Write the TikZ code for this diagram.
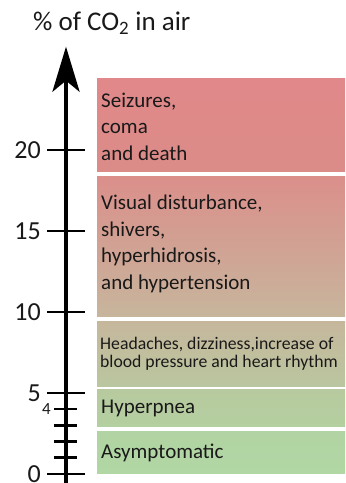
\documentclass[tikz,border=0pt]{standalone}
\usepackage{fontspec}
\setmainfont{Carlito}
\usepackage{tikz}
\usetikzlibrary{arrows.meta}

\definecolor{redtop}{HTML}{E0888A}
\definecolor{redbot}{HTML}{DC8C88}
\definecolor{pinktop}{HTML}{DB8F8B}
\definecolor{tanbot}{HTML}{C7B59C}
\definecolor{tantop}{HTML}{C6B79C}
\definecolor{olivebot}{HTML}{BAC69F}
\definecolor{sagetop}{HTML}{B7CA9F}
\definecolor{sagebot}{HTML}{B4CFA0}
\definecolor{greentop}{HTML}{B2D3A3}
\definecolor{greenbot}{HTML}{B0D7A4}

\begin{document}
\begin{tikzpicture}[x=1pt, y=16.2pt,
    every node/.style={font=\fontsize{21}{26.5}\selectfont, text=black!90},
    tickmark/.style={line width=2.6pt},
    boxtext/.style={anchor=west, align=left, inner xsep=4pt}]
  \useasboundingbox (0,-0.5556) rectangle (345,29.259);

  \foreach \lo/\hi/\ctop/\cbot in {0.06/2.65/greentop/greenbot, 2.92/5.19/sagetop/sagebot,
      5.43/9.40/tantop/olivebot, 9.71/18.35/pinktop/tanbot, 18.67/24.43/redtop/redbot}
    \shade[top color=\ctop, bottom color=\cbot] (97,\lo) rectangle (345,\hi);

  \node[boxtext] (death) at (97,21.45) {Seizures,\\coma\\and death};
  \node[boxtext] (visual) at (97,14.2) {Visual disturbance,\\shivers,\\hyperhidrosis,\\and hypertension};
  \node[boxtext, inner xsep=3pt, font=\fontsize{17.7}{17.5}\selectfont] (headache) at (97,7.42)
    {Headaches, dizziness,increase of\\blood pressure and heart rhythm};
  \node[boxtext] (hyper) at (97,4.02) {Hyperpnea};
  \node[boxtext] (asym) at (97,1.3) {Asymptomatic};

  \draw[line width=4.5pt, -{Stealth[length=45pt, width=27pt, inset=11pt]}] (66,-0.5556) -- (66,26.38);
  \foreach \v in {0,5,10,15,20}
    \draw[tickmark] (47,\v) node[anchor=east, inner xsep=5pt, font=\fontsize{26}{30}\selectfont] (t\v) {\v} -- (85,\v);
  \foreach \v in {1,2,3}
    \draw[tickmark] (54,\v) -- (77,\v);
  \draw[tickmark] (54,4) node[anchor=east, inner xsep=2pt, font=\fontsize{17}{18}\selectfont] (t4) {4} -- (77,4);

  \node[anchor=base west, inner sep=0pt, font=\fontsize{27}{30}\selectfont] (title) at (33,27.35)
    {\% of CO\textsubscript{2} in air};
\end{tikzpicture}
\end{document}
